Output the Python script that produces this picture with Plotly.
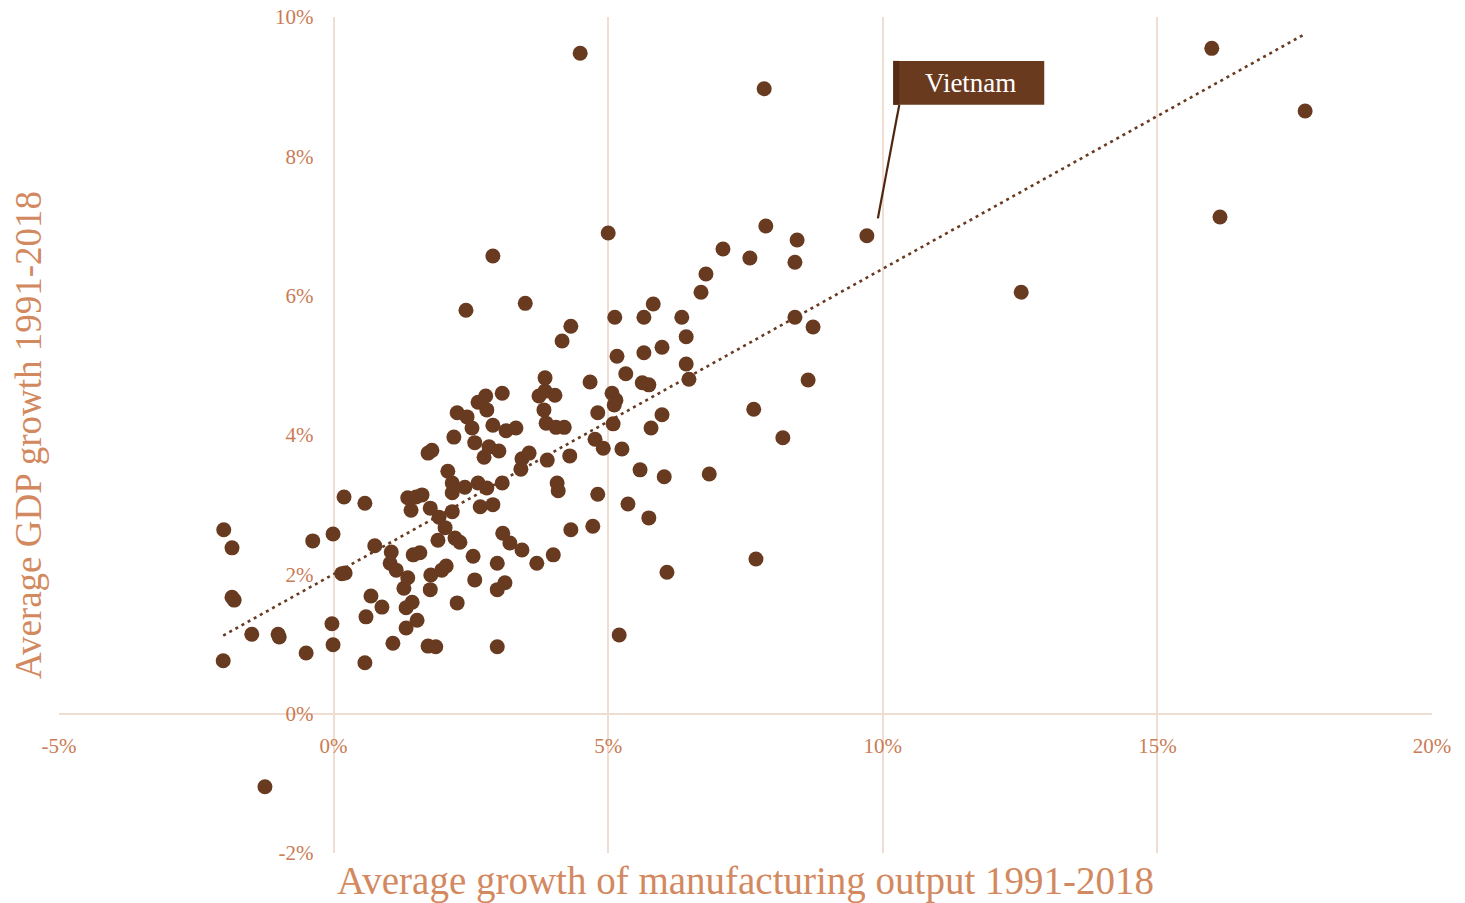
import numpy as np
import plotly.graph_objects as go

# Average growth of manufacturing output 1991-2018 (%)
manufacturing_growth = [
    -2.00, -1.85, -1.85, -1.81, -2.01, -1.49, -1.01, -0.99, -1.25, -0.50,
    -0.38, -0.01, 0.19, 0.15, 0.21, -0.03, -0.01, 0.57, 0.59, 0.57,
    0.68, 0.75, 0.88, 1.05, 1.03, 1.14, 1.08, 1.28, 1.35, 1.43,
    1.32, 1.52, 1.32, 1.35, 1.50, 1.61, 1.41, 1.45, 1.57, 1.72,
    1.86, 1.76, 1.77, 1.76, 1.72, 1.79, 1.90, 1.92, 1.97, 2.05,
    2.03, 2.08, 2.16, 2.16, 2.16, 2.19, 2.21, 2.30, 2.25, 2.25,
    2.41, 2.43, 2.39, 2.52, 2.54, 2.57, 2.57, 2.63, 2.63, 2.67,
    2.77, 2.74, 2.79, 2.79, 2.83, 2.90, 2.90, 2.90, 2.98, 2.98,
    2.98, 3.01, 3.07, 3.07, 3.08, 3.12, 3.14, 3.21, 3.32, 3.43,
    3.43, 3.56, 3.41, 3.49, 3.70, 3.74, 3.85, 4.03, 3.85, 3.83,
    3.87, 4.05, 4.20, 3.89, 4.00, 4.07, 4.09, 4.16, 4.30, 4.32,
    4.32, 4.49, 4.67, 4.72, 4.76, 4.81, 4.81, 4.91, 5.00, 5.07,
    5.14, 5.11, 5.12, 5.09, 5.16, 5.20, 5.25, 5.32, 5.36, 5.58,
    5.62, 5.74, 5.65, 5.65, 5.74, 5.78, 5.82, 5.98, 5.98, 6.02,
    6.07, 6.34, 6.42, 6.42, 6.47, 6.69, 6.78, 6.84, 7.09, 7.58,
    7.65, 7.69, 7.84, 7.87, 8.18, 8.40, 8.44, 8.40, 8.64, 8.73,
    9.71, 12.52, 15.99, 16.14, 17.69,
]

# Average GDP growth 1991-2018 (%)
gdp_growth = [
    2.64, 2.38, 1.67, 1.63, 0.76, 1.14, 1.14, 1.10, -1.05, 0.87,
    2.48, 2.58, 3.11, 2.01, 2.02, 1.29, 0.99, 3.02, 1.39, 0.73,
    1.69, 2.41, 1.53, 2.32, 2.16, 2.06, 1.01, 1.80, 1.95, 1.60,
    1.52, 1.34, 1.23, 3.10, 3.11, 3.14, 2.92, 2.28, 2.31, 0.97,
    0.96, 1.78, 1.99, 2.95, 3.74, 3.78, 2.49, 2.82, 2.06, 2.12,
    2.67, 3.48, 3.31, 3.17, 2.90, 3.97, 2.52, 2.46, 1.59, 4.32,
    5.79, 4.26, 3.25, 4.10, 2.26, 3.89, 1.92, 4.47, 3.31, 2.97,
    4.56, 3.68, 4.36, 3.24, 3.83, 3.00, 4.14, 6.57, 1.78, 2.16,
    0.96, 3.77, 4.60, 3.31, 2.59, 1.88, 4.06, 2.45, 4.10, 2.35,
    3.66, 3.74, 3.51, 5.89, 2.16, 4.56, 4.63, 4.57, 4.82, 4.36,
    4.17, 4.11, 4.11, 3.64, 2.28, 3.31, 3.20, 5.35, 3.70, 5.56,
    2.64, 9.48, 4.76, 2.69, 3.94, 4.32, 3.15, 3.81, 6.90, 4.60,
    4.50, 4.43, 5.69, 4.16, 5.13, 1.13, 3.80, 4.88, 3.01, 3.50,
    4.75, 4.72, 5.18, 5.69, 2.81, 4.10, 5.88, 5.26, 4.29, 3.40,
    2.03, 5.69, 5.41, 5.02, 4.80, 6.05, 6.31, 3.44, 6.67, 6.54,
    4.37, 2.22, 8.97, 7.00, 3.96, 6.48, 6.80, 5.69, 4.79, 5.55,
    6.86, 6.05, 9.55, 7.13, 8.65,
]

x_ticks = [-5, 0, 5, 10, 15, 20]
x_tick_labels = ["-5%", "0%", "5%", "10%", "15%", "20%"]
y_ticks = [-2, 0, 2, 4, 6, 8, 10]
y_tick_labels = ["-2%", "0%", "2%", "4%", "6%", "8%", "10%"]

x_title = "Average growth of manufacturing output 1991-2018"
y_title = "Average GDP growth 1991-2018"
callout_text = "Vietnam"

# Layout constants (positions of the callout box and its leader)
callout_box = dict(x0=10.19, x1=12.94, y0=8.74, y1=9.37)
leader_tip = (9.91, 7.11)
leader_tail = (10.30, 8.74)

DOT = "#683A20"
DARK = "#4E2713"
TICK = "#C97C55"
TITLE = "#D3895F"
GRID = "#F0DDD1"
FONT = "Liberation Serif"

x = np.array(manufacturing_growth)
y = np.array(gdp_growth)
slope, intercept = np.polyfit(x, y, 1)
trend_x = np.array([x.min(), x.max()])
trend_y = intercept + slope * trend_x

fig = go.Figure()
fig.add_trace(go.Scatter(
    x=trend_x, y=trend_y, mode="lines",
    line=dict(color=DOT, width=2.6, dash="3px,4px"),
    hoverinfo="skip", showlegend=False,
))
fig.add_trace(go.Scatter(
    x=x, y=y, mode="markers",
    marker=dict(color=DOT, size=15, line=dict(width=0)),
    showlegend=False,
))

# Leader line and callout
fig.add_shape(type="line", xref="x", yref="y",
              x0=leader_tip[0], y0=leader_tip[1], x1=leader_tail[0], y1=leader_tail[1],
              line=dict(color=DARK, width=2.2))
fig.add_shape(type="rect", xref="x", yref="y",
              x0=callout_box["x0"], x1=callout_box["x1"],
              y0=callout_box["y0"], y1=callout_box["y1"],
              fillcolor="#6A3A1E", line=dict(width=0), layer="above")
fig.add_shape(type="rect", xref="x", yref="y",
              x0=callout_box["x0"], x1=leader_tail[0],
              y0=callout_box["y0"], y1=callout_box["y1"],
              fillcolor="#552B15", line=dict(width=0), layer="above")
fig.add_annotation(
    x=(callout_box["x0"] + callout_box["x1"]) / 2 + 0.03,
    y=(callout_box["y0"] + callout_box["y1"]) / 2,
    xref="x", yref="y", text=callout_text, showarrow=False,
    font=dict(family=FONT, size=27, color="white"),
    xanchor="center", yanchor="middle",
)

fig.update_layout(
    width=1465, height=903,
    margin=dict(l=59, r=33, t=17, b=50),
    paper_bgcolor="white", plot_bgcolor="white",
    font=dict(family=FONT),
    xaxis=dict(
        range=[-5, 20], tickvals=x_ticks, ticktext=x_tick_labels,
        showgrid=True, gridcolor=GRID, gridwidth=2,
        zeroline=False, showline=False, ticks="",
        anchor="free", position=2 / 12,
        ticklabelstandoff=17, ticklabeloverflow="allow",
        tickfont=dict(family=FONT, size=21, color=TICK),
        title=dict(text=x_title, font=dict(family=FONT, size=39, color=TITLE), standoff=110),
        automargin=False,
    ),
    yaxis=dict(
        range=[-2, 10], tickvals=y_ticks, ticktext=y_tick_labels,
        showgrid=False, zeroline=True, zerolinecolor=GRID, zerolinewidth=2,
        showline=False, ticks="",
        anchor="free", position=0.2,
        ticklabelstandoff=20, ticklabeloverflow="allow",
        tickfont=dict(family=FONT, size=21, color=TICK),
        title=dict(text=y_title, font=dict(family=FONT, size=37, color=TITLE), standoff=221),
        automargin=False,
    ),
)

fig.write_html(
    "out.html",
    config={"displayModeBar": False},
    post_script="document.body.style.margin='0';",
)
